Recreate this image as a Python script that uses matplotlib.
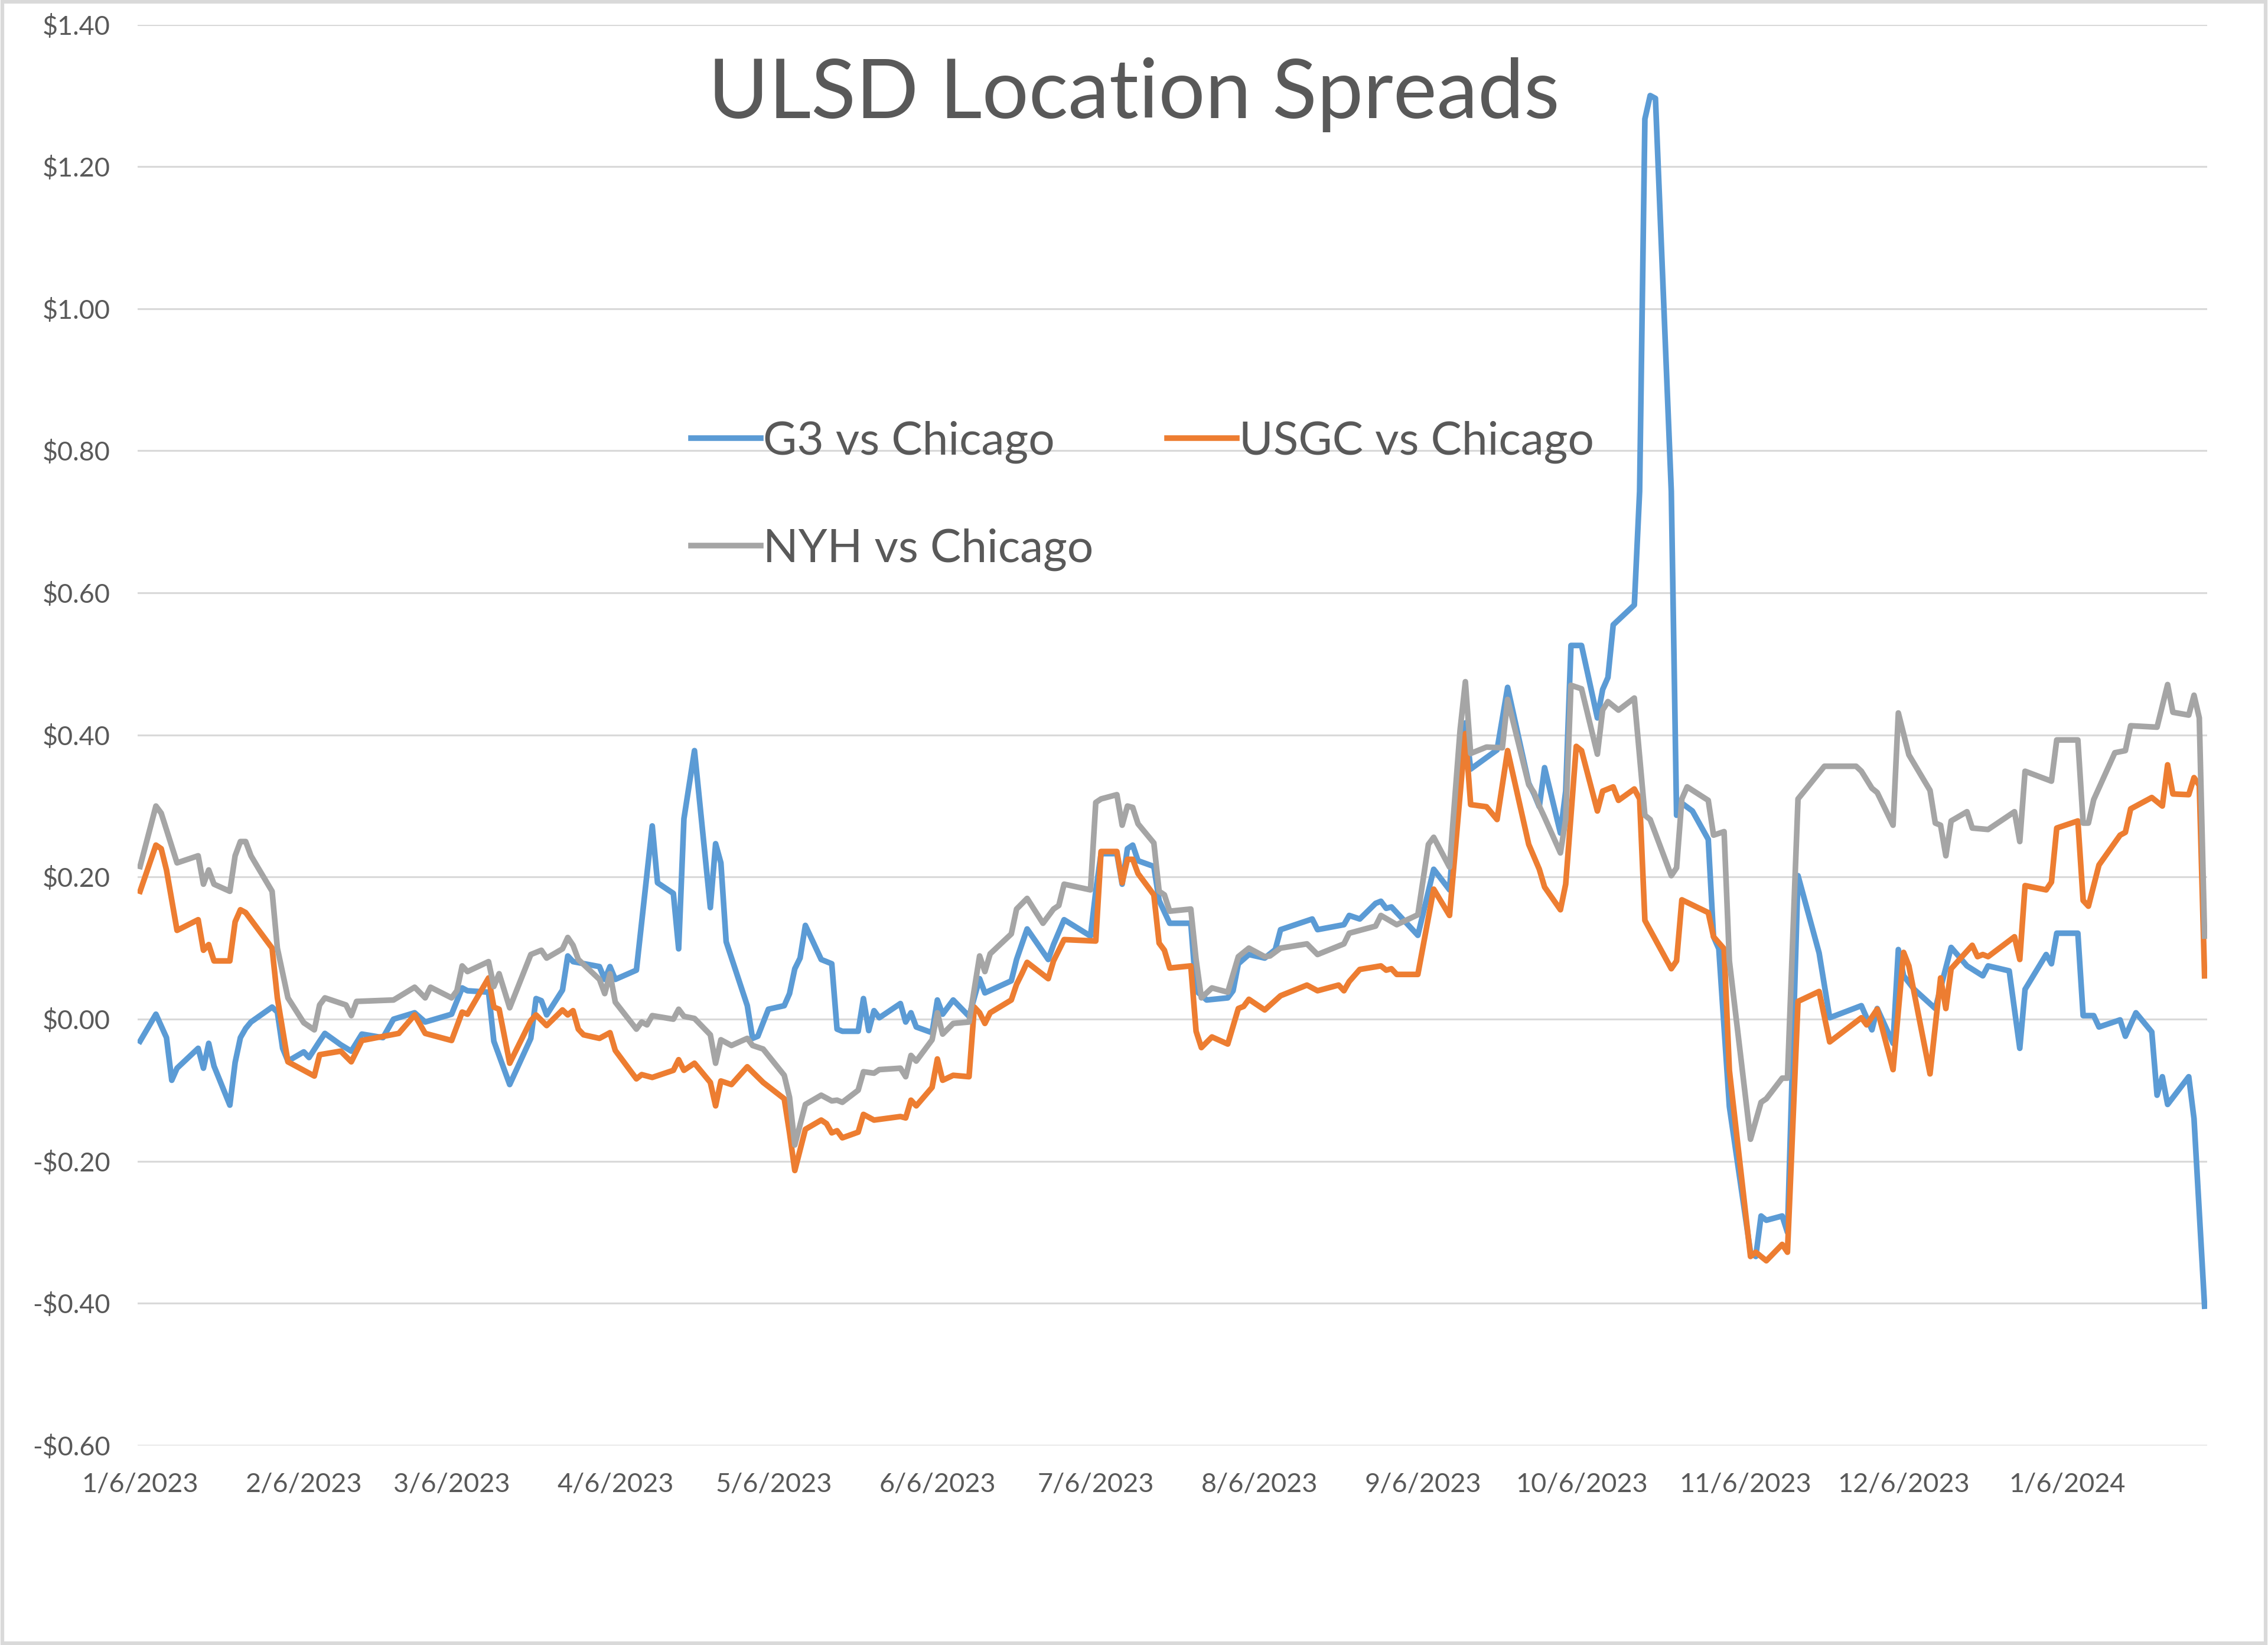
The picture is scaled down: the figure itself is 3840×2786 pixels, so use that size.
import matplotlib
matplotlib.use("Agg")
import matplotlib.pyplot as plt
from matplotlib.patches import Rectangle
from matplotlib.ticker import FuncFormatter
from datetime import datetime, timedelta

plt.rcParams['font.family'] = ['Lato', 'DejaVu Sans']

# --- data ---
g3 = [
    ("2023-01-06", -0.031), ("2023-01-09", 0.007), ("2023-01-11", -0.026), ("2023-01-12", -0.086),
    ("2023-01-13", -0.069), ("2023-01-17", -0.041), ("2023-01-18", -0.069), ("2023-01-19", -0.034),
    ("2023-01-20", -0.066), ("2023-01-23", -0.121), ("2023-01-24", -0.061), ("2023-01-25", -0.026),
    ("2023-01-26", -0.013), ("2023-01-27", -0.004), ("2023-01-31", 0.017), ("2023-02-01", 0.010),
    ("2023-02-02", -0.041), ("2023-02-03", -0.059), ("2023-02-06", -0.046), ("2023-02-07", -0.054),
    ("2023-02-09", -0.031), ("2023-02-10", -0.020), ("2023-02-13", -0.036), ("2023-02-15", -0.045),
    ("2023-02-17", -0.021), ("2023-02-21", -0.026), ("2023-02-23", 0.000), ("2023-02-27", 0.009),
    ("2023-03-01", -0.004), ("2023-03-06", 0.007), ("2023-03-08", 0.044), ("2023-03-09", 0.040),
    ("2023-03-13", 0.038), ("2023-03-14", -0.031), ("2023-03-17", -0.092), ("2023-03-21", -0.027),
    ("2023-03-22", 0.029), ("2023-03-23", 0.026), ("2023-03-24", 0.006), ("2023-03-27", 0.041),
    ("2023-03-28", 0.089), ("2023-03-29", 0.081), ("2023-04-03", 0.074), ("2023-04-04", 0.056),
    ("2023-04-05", 0.074), ("2023-04-06", 0.056), ("2023-04-10", 0.069), ("2023-04-13", 0.272),
    ("2023-04-14", 0.192), ("2023-04-17", 0.177), ("2023-04-18", 0.099), ("2023-04-19", 0.282),
    ("2023-04-21", 0.378), ("2023-04-24", 0.157), ("2023-04-25", 0.247), ("2023-04-26", 0.220),
    ("2023-04-27", 0.109), ("2023-05-01", 0.019), ("2023-05-02", -0.027), ("2023-05-03", -0.024),
    ("2023-05-05", 0.014), ("2023-05-08", 0.019), ("2023-05-09", 0.036), ("2023-05-10", 0.071),
    ("2023-05-11", 0.086), ("2023-05-12", 0.132), ("2023-05-15", 0.084), ("2023-05-16", 0.081),
    ("2023-05-17", 0.078), ("2023-05-18", -0.014), ("2023-05-19", -0.017), ("2023-05-22", -0.017),
    ("2023-05-23", 0.029), ("2023-05-24", -0.016), ("2023-05-25", 0.012), ("2023-05-26", 0.002),
    ("2023-05-30", 0.022), ("2023-05-31", -0.004), ("2023-06-01", 0.009), ("2023-06-02", -0.011),
    ("2023-06-05", -0.019), ("2023-06-06", 0.027), ("2023-06-07", 0.007), ("2023-06-09", 0.027),
    ("2023-06-12", 0.004), ("2023-06-14", 0.057), ("2023-06-15", 0.037), ("2023-06-20", 0.054),
    ("2023-06-21", 0.084), ("2023-06-23", 0.127), ("2023-06-27", 0.084), ("2023-06-28", 0.105),
    ("2023-06-30", 0.140), ("2023-07-05", 0.117), ("2023-07-06", 0.180), ("2023-07-07", 0.233),
    ("2023-07-10", 0.233), ("2023-07-11", 0.190), ("2023-07-12", 0.240), ("2023-07-13", 0.245),
    ("2023-07-14", 0.223), ("2023-07-17", 0.215), ("2023-07-18", 0.167), ("2023-07-20", 0.135),
    ("2023-07-24", 0.135), ("2023-07-25", 0.040), ("2023-07-27", 0.027), ("2023-07-31", 0.030),
    ("2023-08-01", 0.040), ("2023-08-02", 0.078), ("2023-08-04", 0.091), ("2023-08-07", 0.086),
    ("2023-08-09", 0.098), ("2023-08-10", 0.126), ("2023-08-16", 0.141), ("2023-08-17", 0.126),
    ("2023-08-22", 0.133), ("2023-08-23", 0.146), ("2023-08-25", 0.141), ("2023-08-28", 0.163),
    ("2023-08-29", 0.166), ("2023-08-30", 0.156), ("2023-08-31", 0.158), ("2023-09-05", 0.118),
    ("2023-09-08", 0.211), ("2023-09-11", 0.182), ("2023-09-13", 0.377), ("2023-09-14", 0.417),
    ("2023-09-15", 0.352), ("2023-09-20", 0.379), ("2023-09-22", 0.467), ("2023-09-26", 0.332),
    ("2023-09-27", 0.317), ("2023-09-28", 0.299), ("2023-09-29", 0.354), ("2023-10-02", 0.262),
    ("2023-10-03", 0.321), ("2023-10-04", 0.526), ("2023-10-06", 0.526), ("2023-10-09", 0.424),
    ("2023-10-10", 0.464), ("2023-10-11", 0.481), ("2023-10-12", 0.555), ("2023-10-16", 0.583),
    ("2023-10-17", 0.743), ("2023-10-18", 1.267), ("2023-10-19", 1.300), ("2023-10-20", 1.296),
    ("2023-10-23", 0.743), ("2023-10-24", 0.287), ("2023-10-25", 0.304), ("2023-10-27", 0.293),
    ("2023-10-30", 0.253), ("2023-10-31", 0.116), ("2023-11-01", 0.099), ("2023-11-03", -0.123),
    ("2023-11-07", -0.328), ("2023-11-08", -0.334), ("2023-11-09", -0.277), ("2023-11-10", -0.283),
    ("2023-11-13", -0.277), ("2023-11-14", -0.300), ("2023-11-16", 0.202), ("2023-11-20", 0.093),
    ("2023-11-22", 0.002), ("2023-11-28", 0.019), ("2023-11-30", -0.015), ("2023-12-01", 0.015),
    ("2023-12-04", -0.034), ("2023-12-05", 0.098), ("2023-12-06", 0.061), ("2023-12-08", 0.042),
    ("2023-12-12", 0.015), ("2023-12-15", 0.101), ("2023-12-18", 0.075), ("2023-12-21", 0.061),
    ("2023-12-22", 0.075), ("2023-12-26", 0.068), ("2023-12-28", -0.041), ("2023-12-29", 0.042),
    ("2024-01-02", 0.091), ("2024-01-03", 0.078), ("2024-01-04", 0.121), ("2024-01-08", 0.121),
    ("2024-01-09", 0.005), ("2024-01-11", 0.005), ("2024-01-12", -0.011), ("2024-01-16", -0.001),
    ("2024-01-17", -0.024), ("2024-01-19", 0.009), ("2024-01-22", -0.018), ("2024-01-23", -0.107),
    ("2024-01-24", -0.081), ("2024-01-25", -0.120), ("2024-01-29", -0.081), ("2024-01-30", -0.140),
    ("2024-02-01", -0.404),
]

usgc = [
    ("2023-01-06", 0.180), ("2023-01-09", 0.245), ("2023-01-10", 0.240), ("2023-01-11", 0.210),
    ("2023-01-13", 0.125), ("2023-01-17", 0.140), ("2023-01-18", 0.097), ("2023-01-19", 0.105),
    ("2023-01-20", 0.082), ("2023-01-23", 0.082), ("2023-01-24", 0.137), ("2023-01-25", 0.154),
    ("2023-01-26", 0.150), ("2023-01-31", 0.100), ("2023-02-01", 0.030), ("2023-02-03", -0.060),
    ("2023-02-08", -0.080), ("2023-02-09", -0.050), ("2023-02-13", -0.045), ("2023-02-15", -0.060),
    ("2023-02-17", -0.030), ("2023-02-24", -0.020), ("2023-02-27", 0.006), ("2023-03-01", -0.020),
    ("2023-03-06", -0.030), ("2023-03-07", -0.010), ("2023-03-08", 0.010), ("2023-03-09", 0.007),
    ("2023-03-13", 0.058), ("2023-03-14", 0.017), ("2023-03-15", 0.014), ("2023-03-17", -0.062),
    ("2023-03-21", -0.002), ("2023-03-22", 0.006), ("2023-03-24", -0.009), ("2023-03-27", 0.013),
    ("2023-03-28", 0.006), ("2023-03-29", 0.012), ("2023-03-30", -0.014), ("2023-03-31", -0.022),
    ("2023-04-03", -0.027), ("2023-04-05", -0.019), ("2023-04-06", -0.044), ("2023-04-10", -0.084),
    ("2023-04-11", -0.078), ("2023-04-13", -0.082), ("2023-04-17", -0.072), ("2023-04-18", -0.057),
    ("2023-04-19", -0.072), ("2023-04-21", -0.062), ("2023-04-24", -0.089), ("2023-04-25", -0.122),
    ("2023-04-26", -0.087), ("2023-04-28", -0.092), ("2023-05-01", -0.067), ("2023-05-04", -0.089),
    ("2023-05-08", -0.112), ("2023-05-09", -0.160), ("2023-05-10", -0.213), ("2023-05-12", -0.155),
    ("2023-05-15", -0.142), ("2023-05-16", -0.147), ("2023-05-17", -0.160), ("2023-05-18", -0.157),
    ("2023-05-19", -0.167), ("2023-05-22", -0.159), ("2023-05-23", -0.134), ("2023-05-25", -0.142),
    ("2023-05-30", -0.137), ("2023-05-31", -0.139), ("2023-06-01", -0.114), ("2023-06-02", -0.122),
    ("2023-06-05", -0.096), ("2023-06-06", -0.056), ("2023-06-07", -0.086), ("2023-06-09", -0.079),
    ("2023-06-12", -0.081), ("2023-06-13", 0.017), ("2023-06-14", 0.009), ("2023-06-15", -0.006),
    ("2023-06-16", 0.009), ("2023-06-20", 0.027), ("2023-06-21", 0.049), ("2023-06-22", 0.064),
    ("2023-06-23", 0.080), ("2023-06-27", 0.057), ("2023-06-28", 0.082), ("2023-06-30", 0.112),
    ("2023-07-06", 0.110), ("2023-07-07", 0.236), ("2023-07-10", 0.236), ("2023-07-11", 0.192),
    ("2023-07-12", 0.225), ("2023-07-13", 0.225), ("2023-07-14", 0.205), ("2023-07-17", 0.175),
    ("2023-07-18", 0.107), ("2023-07-19", 0.097), ("2023-07-20", 0.072), ("2023-07-24", 0.075),
    ("2023-07-25", -0.017), ("2023-07-26", -0.040), ("2023-07-28", -0.025), ("2023-07-31", -0.035),
    ("2023-08-02", 0.015), ("2023-08-03", 0.018), ("2023-08-04", 0.028), ("2023-08-07", 0.013),
    ("2023-08-10", 0.033), ("2023-08-15", 0.048), ("2023-08-17", 0.040), ("2023-08-21", 0.048),
    ("2023-08-22", 0.040), ("2023-08-23", 0.053), ("2023-08-25", 0.070), ("2023-08-29", 0.075),
    ("2023-08-30", 0.069), ("2023-08-31", 0.071), ("2023-09-01", 0.063), ("2023-09-05", 0.063),
    ("2023-09-08", 0.183), ("2023-09-11", 0.146), ("2023-09-14", 0.402), ("2023-09-15", 0.302),
    ("2023-09-18", 0.299), ("2023-09-20", 0.281), ("2023-09-22", 0.378), ("2023-09-26", 0.246),
    ("2023-09-28", 0.211), ("2023-09-29", 0.186), ("2023-10-02", 0.154), ("2023-10-03", 0.190),
    ("2023-10-05", 0.384), ("2023-10-06", 0.378), ("2023-10-09", 0.293), ("2023-10-10", 0.321),
    ("2023-10-12", 0.327), ("2023-10-13", 0.308), ("2023-10-16", 0.324), ("2023-10-17", 0.310),
    ("2023-10-18", 0.139), ("2023-10-23", 0.071), ("2023-10-24", 0.082), ("2023-10-25", 0.168),
    ("2023-10-30", 0.150), ("2023-10-31", 0.116), ("2023-11-02", 0.099), ("2023-11-03", -0.072),
    ("2023-11-07", -0.334), ("2023-11-08", -0.328), ("2023-11-09", -0.334), ("2023-11-10", -0.340),
    ("2023-11-13", -0.317), ("2023-11-14", -0.328), ("2023-11-16", 0.025), ("2023-11-20", 0.039),
    ("2023-11-22", -0.032), ("2023-11-28", 0.002), ("2023-11-29", -0.008), ("2023-12-01", 0.014),
    ("2023-12-04", -0.071), ("2023-12-06", 0.094), ("2023-12-07", 0.075), ("2023-12-11", -0.077),
    ("2023-12-13", 0.058), ("2023-12-14", 0.015), ("2023-12-15", 0.071), ("2023-12-19", 0.104),
    ("2023-12-20", 0.088), ("2023-12-21", 0.091), ("2023-12-22", 0.088), ("2023-12-27", 0.116),
    ("2023-12-28", 0.084), ("2023-12-29", 0.188), ("2024-01-02", 0.182), ("2024-01-03", 0.193),
    ("2024-01-04", 0.269), ("2024-01-08", 0.279), ("2024-01-09", 0.167), ("2024-01-10", 0.159),
    ("2024-01-12", 0.217), ("2024-01-16", 0.259), ("2024-01-17", 0.263), ("2024-01-18", 0.296),
    ("2024-01-22", 0.312), ("2024-01-24", 0.300), ("2024-01-25", 0.358), ("2024-01-26", 0.317),
    ("2024-01-29", 0.316), ("2024-01-30", 0.340), ("2024-01-31", 0.329), ("2024-02-01", 0.061),
]

nyh = [
    ("2023-01-06", 0.215), ("2023-01-09", 0.300), ("2023-01-10", 0.290), ("2023-01-13", 0.220),
    ("2023-01-17", 0.230), ("2023-01-18", 0.190), ("2023-01-19", 0.210), ("2023-01-20", 0.190),
    ("2023-01-23", 0.180), ("2023-01-24", 0.230), ("2023-01-25", 0.250), ("2023-01-26", 0.250),
    ("2023-01-27", 0.230), ("2023-01-31", 0.180), ("2023-02-01", 0.100), ("2023-02-03", 0.030),
    ("2023-02-06", -0.005), ("2023-02-08", -0.015), ("2023-02-09", 0.020), ("2023-02-10", 0.030),
    ("2023-02-14", 0.020), ("2023-02-15", 0.005), ("2023-02-16", 0.025), ("2023-02-23", 0.027),
    ("2023-02-27", 0.045), ("2023-03-01", 0.030), ("2023-03-02", 0.045), ("2023-03-06", 0.030),
    ("2023-03-07", 0.040), ("2023-03-08", 0.075), ("2023-03-09", 0.067), ("2023-03-13", 0.081),
    ("2023-03-14", 0.046), ("2023-03-15", 0.064), ("2023-03-17", 0.016), ("2023-03-21", 0.091),
    ("2023-03-23", 0.097), ("2023-03-24", 0.086), ("2023-03-27", 0.099), ("2023-03-28", 0.115),
    ("2023-03-29", 0.104), ("2023-03-30", 0.084), ("2023-04-03", 0.056), ("2023-04-04", 0.036),
    ("2023-04-05", 0.064), ("2023-04-06", 0.024), ("2023-04-10", -0.014), ("2023-04-11", -0.004),
    ("2023-04-12", -0.008), ("2023-04-13", 0.005), ("2023-04-17", 0.000), ("2023-04-18", 0.014),
    ("2023-04-19", 0.004), ("2023-04-21", 0.001), ("2023-04-24", -0.022), ("2023-04-25", -0.062),
    ("2023-04-26", -0.029), ("2023-04-28", -0.037), ("2023-05-01", -0.027), ("2023-05-02", -0.037),
    ("2023-05-04", -0.042), ("2023-05-08", -0.079), ("2023-05-09", -0.110), ("2023-05-10", -0.177),
    ("2023-05-12", -0.120), ("2023-05-15", -0.107), ("2023-05-17", -0.115), ("2023-05-18", -0.114),
    ("2023-05-19", -0.117), ("2023-05-22", -0.100), ("2023-05-23", -0.074), ("2023-05-25", -0.076),
    ("2023-05-26", -0.071), ("2023-05-30", -0.069), ("2023-05-31", -0.081), ("2023-06-01", -0.051),
    ("2023-06-02", -0.059), ("2023-06-05", -0.029), ("2023-06-06", 0.009), ("2023-06-07", -0.021),
    ("2023-06-09", -0.006), ("2023-06-12", -0.004), ("2023-06-14", 0.089), ("2023-06-15", 0.067),
    ("2023-06-16", 0.092), ("2023-06-20", 0.120), ("2023-06-21", 0.155), ("2023-06-23", 0.170),
    ("2023-06-26", 0.135), ("2023-06-28", 0.155), ("2023-06-29", 0.160), ("2023-06-30", 0.190),
    ("2023-07-05", 0.182), ("2023-07-06", 0.305), ("2023-07-07", 0.310), ("2023-07-10", 0.316),
    ("2023-07-11", 0.273), ("2023-07-12", 0.300), ("2023-07-13", 0.298), ("2023-07-14", 0.275),
    ("2023-07-17", 0.248), ("2023-07-18", 0.180), ("2023-07-19", 0.175), ("2023-07-20", 0.152),
    ("2023-07-24", 0.155), ("2023-07-25", 0.084), ("2023-07-26", 0.030), ("2023-07-28", 0.044),
    ("2023-07-31", 0.038), ("2023-08-02", 0.088), ("2023-08-04", 0.100), ("2023-08-07", 0.088),
    ("2023-08-08", 0.089), ("2023-08-10", 0.100), ("2023-08-15", 0.106), ("2023-08-17", 0.091),
    ("2023-08-22", 0.106), ("2023-08-23", 0.121), ("2023-08-28", 0.131), ("2023-08-29", 0.146),
    ("2023-09-01", 0.133), ("2023-09-05", 0.147), ("2023-09-07", 0.246), ("2023-09-08", 0.256),
    ("2023-09-11", 0.214), ("2023-09-13", 0.407), ("2023-09-14", 0.475), ("2023-09-15", 0.374),
    ("2023-09-18", 0.383), ("2023-09-21", 0.382), ("2023-09-22", 0.450), ("2023-09-26", 0.330),
    ("2023-09-27", 0.319), ("2023-09-28", 0.300), ("2023-09-29", 0.284), ("2023-10-02", 0.234),
    ("2023-10-03", 0.281), ("2023-10-04", 0.470), ("2023-10-06", 0.465), ("2023-10-09", 0.373),
    ("2023-10-10", 0.435), ("2023-10-11", 0.447), ("2023-10-13", 0.435), ("2023-10-16", 0.452),
    ("2023-10-18", 0.287), ("2023-10-19", 0.281), ("2023-10-23", 0.202), ("2023-10-24", 0.213),
    ("2023-10-25", 0.310), ("2023-10-26", 0.327), ("2023-10-30", 0.308), ("2023-10-31", 0.259),
    ("2023-11-02", 0.264), ("2023-11-03", 0.082), ("2023-11-07", -0.169), ("2023-11-09", -0.117),
    ("2023-11-10", -0.112), ("2023-11-13", -0.083), ("2023-11-14", -0.083), ("2023-11-16", 0.310),
    ("2023-11-21", 0.356), ("2023-11-27", 0.356), ("2023-11-28", 0.349), ("2023-11-30", 0.325),
    ("2023-12-01", 0.319), ("2023-12-04", 0.273), ("2023-12-05", 0.431), ("2023-12-07", 0.372),
    ("2023-12-11", 0.322), ("2023-12-12", 0.276), ("2023-12-13", 0.273), ("2023-12-14", 0.230),
    ("2023-12-15", 0.279), ("2023-12-18", 0.292), ("2023-12-19", 0.269), ("2023-12-22", 0.267),
    ("2023-12-27", 0.292), ("2023-12-28", 0.250), ("2023-12-29", 0.349), ("2024-01-03", 0.335),
    ("2024-01-04", 0.393), ("2024-01-08", 0.393), ("2024-01-09", 0.276), ("2024-01-10", 0.276),
    ("2024-01-11", 0.309), ("2024-01-15", 0.375), ("2024-01-17", 0.378), ("2024-01-18", 0.413),
    ("2024-01-23", 0.411), ("2024-01-25", 0.471), ("2024-01-26", 0.432), ("2024-01-29", 0.428),
    ("2024-01-30", 0.456), ("2024-01-31", 0.424), ("2024-02-01", 0.117),
]

series_names = ["G3 vs Chicago", "USGC vs Chicago", "NYH vs Chicago"]
series_colors = ["#5B9BD5", "#ED7D31", "#A5A5A5"]
tick_dates = ["2023-01-06", "2023-02-06", "2023-03-06", "2023-04-06", "2023-05-06", "2023-06-06",
              "2023-07-06", "2023-08-06", "2023-09-06", "2023-10-06", "2023-11-06", "2023-12-06",
              "2024-01-06"]
title = "ULSD Location Spreads"


def to_dt(s):
    return datetime.strptime(s, "%Y-%m-%d")


fig = plt.figure(figsize=(12.8, 9.2867), dpi=300)
ax = fig.add_axes([0.0606, 0.1213, 0.9126, 0.8638])

lines = []
for data, name, col in zip([g3, usgc, nyh], series_names, series_colors):
    xs = [to_dt(d) for d, v in data]
    ys = [v for d, v in data]
    ln, = ax.plot(xs, ys, color=col, lw=2.3, label=name, solid_joinstyle='round')
    lines.append(ln)

ax.set_ylim(-0.6, 1.4)
ax.set_yticks([-0.6 + 0.2 * i for i in range(11)])
ax.yaxis.set_major_formatter(FuncFormatter(
    lambda v, p: f"-${abs(v):.2f}" if v < -1e-9 else f"${abs(v):.2f}"))
ax.set_xlim(to_dt("2023-01-06") - timedelta(hours=12), to_dt("2024-02-01") + timedelta(hours=12))
ticks = [to_dt(t) for t in tick_dates]
ax.set_xticks(ticks)
ax.set_xticklabels([f"{t.month}/{t.day}/{t.year}" for t in ticks])

ax.grid(axis='y', color='#D9D9D9', lw=0.75)
ax.set_axisbelow(True)
for s in ax.spines.values():
    s.set_visible(False)
ax.tick_params(axis='both', length=0, labelsize=10.8, labelcolor='#595959')
ax.tick_params(axis='y', pad=11)
ax.tick_params(axis='x', pad=11)

fig.text(0.5, 0.9425, title, ha='center', va='center', fontsize=33.5, color='#595959')

leg = fig.legend([lines[0], lines[2], lines[1]],
                 [series_names[0], series_names[2], series_names[1]],
                 ncol=2, loc='center left', bbox_to_anchor=(0.3048, 0.6985),
                 frameon=False, fontsize=18.8, handlelength=1.5, handletextpad=0.05,
                 columnspacing=1.6, labelspacing=1.4, borderpad=0, borderaxespad=0)
for t in leg.get_texts():
    t.set_color('#595959')

fig.patches.append(Rectangle((0.001, 0.001), 0.998, 0.998, transform=fig.transFigure,
                             fill=False, edgecolor='#D9D9D9', lw=1.5))

fig.savefig("out.png", dpi=300, facecolor='white')
